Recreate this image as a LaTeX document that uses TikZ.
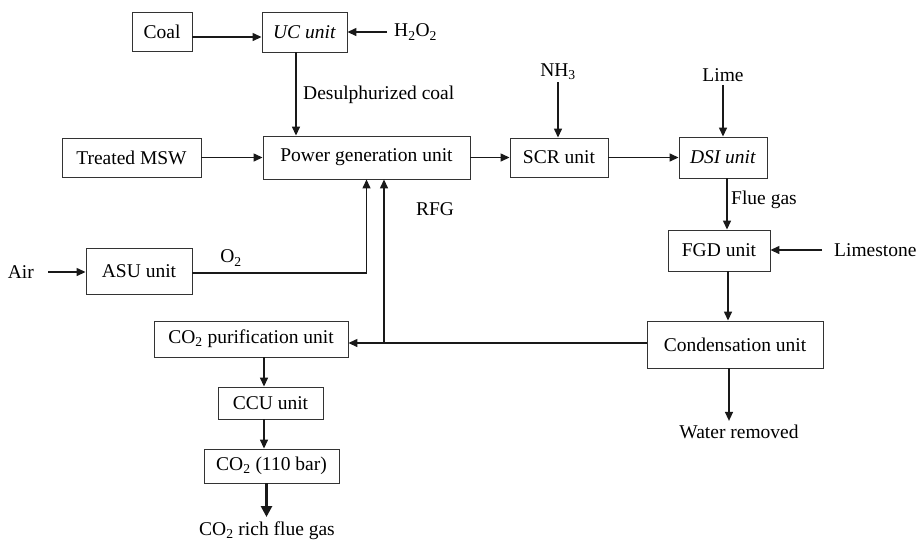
\documentclass[tikz,border=0pt]{standalone}
\usepackage{fontspec}
\setmainfont{Liberation Serif}
\usetikzlibrary{arrows.meta}
\begin{document}
\begin{tikzpicture}[x=1pt,y=-1pt,
  every node/.style={font=\fontsize{19.5pt}{22pt}\selectfont, text=black},
  box/.style={draw=black!80, line width=0.9pt, inner sep=0pt},
  lab/.style={inner sep=0pt},
  arr/.style={-{Triangle[length=9pt,width=8pt]}, line width=1.4pt, draw=black!90},
  thickarr/.style={-{Triangle[length=11pt,width=11pt]}, line width=2.6pt, draw=black!90}]
\useasboundingbox (0,0) rectangle (918,547);
% boxes
\node[box, minimum width=60pt, minimum height=39pt] (coal) at (162,32) {Coal};
\node[box, minimum width=85pt, minimum height=40pt] (uc) at (304.5,32) {\textit{UC unit}};
\node[box, minimum width=139pt, minimum height=39pt] (msw) at (131.5,157.5) {Treated MSW};
\node[box, minimum width=207pt, minimum height=43pt] (pg) at (366.5,157.5) {Power generation unit};
\node[box, minimum width=98pt, minimum height=39pt] (scr) at (559,157.5) {SCR unit};
\node[box, minimum width=88pt, minimum height=41pt] (dsi) at (723,157.5) {\textit{DSI unit}};
\node[box, minimum width=102pt, minimum height=41pt] (fgd) at (719,250.5) {FGD unit};
\node[box, minimum width=176pt, minimum height=47pt] (cond) at (735,344.5) {Condensation unit};
\node[box, minimum width=106pt, minimum height=46pt] (asu) at (139,271) {ASU unit};
\node[box, minimum width=194pt, minimum height=36pt] (purif) at (251,339) {CO\textsubscript{2} purification unit};
\node[box, minimum width=105pt, minimum height=32pt] (ccu) at (270.5,403) {CCU unit};
\node[box, minimum width=135pt, minimum height=34pt] (co2) at (271.5,466) {CO\textsubscript{2} (110 bar)};
% labels
\node[lab, anchor=west] (h2o2) at (394,32) {H\textsubscript{2}O\textsubscript{2}};
\node[lab, anchor=west] (dc) at (303,95) {Desulphurized coal};
\node[lab] (nh3) at (558,72) {NH\textsubscript{3}};
\node[lab] (lime) at (723,75) {Lime};
\node[lab, anchor=west] (fg) at (731,200) {Flue gas};
\node[lab, anchor=west] (ls) at (834,250) {Limestone};
\node[lab, anchor=east] (air) at (34,272) {Air};
\node[lab] (o2) at (231,258) {O\textsubscript{2}};
\node[lab] (rfg) at (435,209) {RFG};
\node[lab] (water) at (739,432) {Water removed};
\node[lab, anchor=base] (rich) at (267,535) {CO\textsubscript{2} rich flue gas};
% connectors
\draw[arr] ([yshift=-5pt]coal.east) -- ([yshift=-5pt]uc.west);
\draw[arr, shorten <=7pt] (h2o2.west) -- (h2o2.west -| uc.east);
\draw[arr] ([xshift=-8.5pt]uc.south) -- ([xshift=-8.5pt]uc.south |- pg.north);
\draw[arr] (msw.east) -- (pg.west);
\draw[arr] (pg.east) -- (scr.west);
\draw[arr] (scr.east) -- (dsi.west);
\draw[arr, shorten <=2pt] (nh3.south) -- (nh3.south |- scr.north);
\draw[arr, shorten <=3pt] (lime.south) -- (lime.south |- dsi.north);
\draw[arr] ([xshift=4pt]dsi.south) -- ([xshift=4pt]dsi.south |- fgd.north);
\draw[arr, shorten <=12pt] (ls.west) -- (ls.west -| fgd.east);
\draw[arr] ([xshift=9pt]fgd.south) -- ([xshift=9pt]fgd.south |- cond.north);
\draw[arr, shorten >=4pt] ([xshift=-6pt]cond.south) -- ([xshift=-6pt]cond.south |- water.north);
\draw[arr, shorten <=14pt] (air.east) -- (air.east -| asu.west);
\draw[arr] ([yshift=-2pt]asu.east) -| (pg.south);
\draw[arr] ([yshift=1.5pt]cond.west) -- ([yshift=1.5pt]cond.west -| purif.east);
\coordinate (rfgj) at (384,343);
\draw[arr] (rfgj) -- (rfgj |- pg.south);
\draw[arr] ([xshift=13pt]purif.south) -- ([xshift=13pt]purif.south |- ccu.north);
\draw[arr] ([xshift=-6.5pt]ccu.south) -- ([xshift=-6.5pt]ccu.south |- co2.north);
\coordinate (richtop) at (266.5,517);
\draw[thickarr] ([xshift=-5pt]co2.south) -- (richtop);
\end{tikzpicture}
\end{document}
